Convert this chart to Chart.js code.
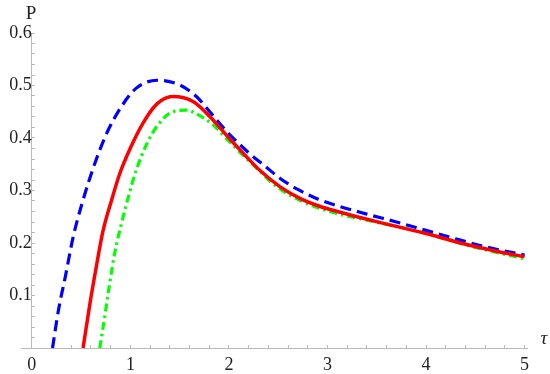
<!DOCTYPE html>
<html>
<head>
<meta charset="utf-8">
<script src="https://cdn.jsdelivr.net/npm/chart.js@4/dist/chart.umd.min.js"></script>
<style>
  html, body { margin: 0; padding: 0; background: #fff; }
  #wrap { width: 550px; height: 374px; position: relative; }
</style>
</head>
<body>
<div id="wrap"><canvas id="chart"></canvas></div>
<script>
// values
const blueTau = [0.21, 0.27, 0.34, 0.42, 0.52, 0.64, 0.76, 0.91, 1.06, 1.27, 1.5, 1.67, 1.81, 1.98, 2.2, 2.35, 2.52, 2.7, 2.9, 3.1, 3.4, 3.7, 4.0, 4.3, 4.6, 5.0];
const blueP   = [0, 0.072, 0.136, 0.212, 0.282, 0.352, 0.409, 0.46, 0.495, 0.51, 0.501, 0.479, 0.449, 0.412, 0.372, 0.349, 0.323, 0.302, 0.284, 0.271, 0.255, 0.24, 0.224, 0.208, 0.193, 0.177];

const redTau = [0.52, 0.59, 0.66, 0.72, 0.81, 0.89, 1.0, 1.13, 1.27, 1.43, 1.64, 1.81, 2.0, 2.15, 2.31, 2.52, 2.72, 2.92, 3.1, 3.3, 3.6, 4.0, 4.35, 4.75, 5.0];
const redP   = [0, 0.085, 0.161, 0.221, 0.282, 0.331, 0.381, 0.429, 0.465, 0.479, 0.469, 0.44, 0.4, 0.37, 0.339, 0.307, 0.285, 0.27, 0.26, 0.25, 0.236, 0.218, 0.2, 0.183, 0.174];

const greenTau = [0.69, 0.74, 0.79, 0.84, 0.91, 0.98, 1.06, 1.17, 1.28, 1.43, 1.57, 1.69, 1.84, 1.98, 2.1, 2.24, 2.48, 2.75, 3.06, 3.36, 3.77, 4.04, 4.45, 5.0];
const greenP   = [0, 0.06, 0.123, 0.18, 0.237, 0.288, 0.339, 0.39, 0.425, 0.45, 0.453, 0.444, 0.425, 0.398, 0.375, 0.35, 0.308, 0.279, 0.258, 0.245, 0.229, 0.216, 0.194, 0.17];

const xTickLabels = [0, 1, 2, 3, 4, 5];
const yTickLabels = [0.1, 0.2, 0.3, 0.4, 0.5, 0.6];
const xMinorStep = 0.2;
const yMinorStep = 0.02;

function pts(xs, ys) {
  return xs.map((x, i) => ({ x: x, y: ys[i] }));
}

function stepTicks(from, to, step) {
  const out = [];
  for (let v = from; v <= to + 1e-9; v += step) out.push({ value: Math.round(v * 1000) / 1000 });
  return out;
}

const axisGray = '#b9b9b9';
const serif = '"Liberation Serif", "DejaVu Serif", serif';

// axis names, Mathematica style
const axisNames = {
  id: 'axisNames',
  afterDraw(chart) {
    const ctx = chart.ctx;
    ctx.save();
    ctx.fillStyle = '#222';
    ctx.font = '19px ' + serif;
    ctx.textAlign = 'center';
    ctx.textBaseline = 'middle';
    ctx.fillText('P', 31, 14);
    ctx.font = 'italic 19px ' + serif;
    ctx.fillText('τ', 544, 339);
    ctx.restore();
  }
};

new Chart(document.getElementById('chart'), {
  type: 'line',
  data: {
    datasets: [
      {
        label: 'red',
        data: pts(redTau, redP),
        borderColor: '#ff0000',
        borderWidth: 3.5,
        order: 0
      },
      {
        label: 'blue',
        data: pts(blueTau, blueP),
        borderColor: '#0000ff',
        borderWidth: 3.2,
        borderDash: [11, 6],
        order: 1
      },
      {
        label: 'green',
        data: pts(greenTau, greenP),
        borderColor: '#00ff00',
        borderWidth: 3.2,
        borderDash: [8, 4, 2.5, 4],
        order: 2
      }
    ]
  },
  options: {
    responsive: true,
    maintainAspectRatio: false,
    animation: false,
    clip: false,
    layout: { padding: { left: 21, right: 22.5, top: 33, bottom: 26 } },
    elements: {
      point: { radius: 0 },
      line: { cubicInterpolationMode: 'monotone', fill: false, borderCapStyle: 'butt' }
    },
    plugins: { legend: { display: false }, tooltip: { enabled: false } },
    scales: {
      x: {
        type: 'linear',
        position: { y: 0 },
        min: -0.11,
        max: 5.03,
        afterBuildTicks: s => { s.ticks = stepTicks(0, 5, xMinorStep); },
        grid: {
          drawOnChartArea: false,
          drawTicks: true,
          tickLength: -4,
          tickColor: axisGray,
          tickWidth: 1
        },
        border: { display: true, color: axisGray, width: 1 },
        ticks: {
          autoSkip: false,
          maxRotation: 0,
          padding: 10,
          color: '#222',
          font: { family: serif, size: 18 },
          callback: v => xTickLabels.includes(v) ? String(v) : ''
        }
      },
      y: {
        type: 'linear',
        position: { x: 0 },
        min: 0,
        max: 0.6,
        afterBuildTicks: s => { s.ticks = stepTicks(0, 0.6, yMinorStep); },
        grid: {
          drawOnChartArea: false,
          drawTicks: true,
          tickLength: -4,
          tickColor: axisGray,
          tickWidth: 1
        },
        border: { display: true, color: axisGray, width: 1 },
        ticks: {
          autoSkip: false,
          padding: 6,
          color: '#222',
          font: { family: serif, size: 18 },
          callback: v => yTickLabels.includes(v) ? String(v) : ''
        }
      }
    }
  },
  plugins: [axisNames]
});
</script>
</body>
</html>
